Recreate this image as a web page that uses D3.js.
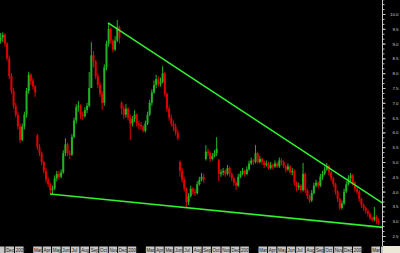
<!DOCTYPE html>
<html>
<head>
<meta charset="utf-8">
<script src="https://cdnjs.cloudflare.com/ajax/libs/d3/7.8.5/d3.min.js"></script>
<style>
body { margin: 0; background: #000; }
svg { display: block; }
</style>
</head>
<body>
<svg id="chart"></svg>
<script>
// weekly candles, Mon 15 Nov 2004 .. Mon 24 Mar 2008
const opens = [
  9.1, 9.2, 9.3, 9.0, 8.5, 7.9, 7.4, 6.9, 6.6, 6.2,
  5.75, 6.2, 6.6, 7.4, 7.95, 7.75, 7.55, 5.9, 5.5, 5.3,
  5.0, 4.7, 4.4, 4.25, 4.05, 4.1, 4.45, 4.6, 4.5, 4.65,
  5.3, 5.6, 5.3, 5.25, 5.85, 6.4, 6.85, 6.9, 6.6, 6.55,
  6.75, 6.9, 7.5, 8.6, 8.4, 7.9, 7.6, 7.3, 7.0, 8.2,
  9.0, 9.5, 9.1, 8.8, 9.1, 9.55, 7.0, 6.8, 6.6, 6.8,
  6.5, 6.3, 6.45, 6.6, 6.3, 6.25, 6.2, 6.05, 6.3, 6.6,
  7.0, 7.35, 7.6, 7.8, 7.65, 7.7, 8.0, 7.3, 6.8, 6.5,
  6.3, 6.2, 6.0, 5.0, 4.7, 4.4, 4.1, 3.65, 3.85, 4.1,
  4.0, 3.95, 4.25, 4.4, 4.5, 5.1, 5.35, 5.3, 5.1, 5.2,
  5.3, 5.05, 4.6, 4.65, 4.7, 4.6, 4.8, 4.6, 4.45, 4.3,
  4.2, 4.5, 4.6, 4.7, 4.6, 4.75, 4.95, 5.05, 5.0, 5.3,
  5.0, 5.1, 5.0, 4.9, 4.95, 4.8, 4.9, 4.85, 4.95, 4.85,
  5.05, 5.0, 4.85, 4.75, 4.85, 4.65, 4.7, 4.3, 4.15, 4.2,
  4.05, 4.6, 4.05, 3.85, 3.7, 3.95, 4.2, 4.3, 4.2, 4.5,
  4.6, 4.75, 4.85, 4.65, 4.45, 4.25, 4.0, 3.75, 3.45, 3.6,
  4.0, 4.25, 4.45, 4.55, 4.3, 4.1, 4.0, 3.75, 3.55, 3.45,
  3.35, 3.25, 3.1, 3.05, 3.15, 3.0
];
const highs = [
  9.36, 9.38, 9.35, 9.05, 8.6, 8.0, 7.5, 7.0, 6.7, 6.3,
  6.3, 6.7, 7.5, 8.05, 8.0, 7.85, 7.6, 5.95, 5.6, 5.35,
  5.05, 4.8, 4.5, 4.3, 4.2, 4.55, 4.7, 4.7, 4.75, 5.4,
  5.8, 5.65, 5.4, 5.95, 6.5, 6.95, 7.06, 6.95, 6.7, 6.85,
  7.0, 8.04, 9.05, 8.75, 8.45, 8.0, 7.7, 7.4, 8.3, 9.1,
  9.7, 9.55, 9.15, 9.25, 9.8, 9.6, 7.05, 6.9, 6.95, 6.85,
  6.6, 6.55, 6.75, 6.65, 6.4, 6.35, 6.25, 6.4, 6.7, 7.1,
  7.45, 7.75, 7.95, 7.9, 7.85, 8.24, 8.05, 7.35, 6.9, 6.6,
  6.4, 6.3, 6.1, 5.05, 4.8, 4.5, 4.15, 3.95, 4.2, 4.15,
  4.1, 4.35, 4.5, 4.63, 4.6, 5.57, 5.45, 5.35, 5.3, 5.4,
  5.84, 5.1, 4.75, 4.8, 4.75, 4.9, 4.85, 4.65, 4.5, 4.35,
  4.6, 4.7, 4.8, 4.75, 4.85, 5.05, 5.15, 5.1, 5.57, 5.35,
  5.2, 5.15, 5.05, 5.05, 5.0, 5.0, 4.95, 5.05, 5.0, 5.15,
  5.12, 5.05, 4.9, 4.95, 4.9, 4.8, 4.75, 4.35, 4.3, 4.25,
  4.97, 4.65, 4.1, 3.9, 4.05, 4.3, 4.4, 4.35, 4.6, 4.7,
  4.85, 4.97, 4.9, 4.7, 4.5, 4.3, 4.05, 3.8, 3.7, 4.1,
  4.35, 4.55, 4.63, 4.6, 4.35, 4.15, 4.05, 3.8, 3.6, 3.5,
  3.4, 3.3, 3.15, 3.48, 3.2, 3.1
];
const lows = [
  9.0, 9.05, 8.9, 8.42, 7.8, 7.3, 6.8, 6.5, 6.1, 5.64,
  5.7, 6.1, 6.5, 7.3, 7.6, 7.45, 7.2, 5.4, 5.2, 4.9,
  4.6, 4.3, 4.15, 3.95, 3.92, 4.05, 4.35, 4.4, 4.45, 4.6,
  5.2, 5.2, 5.1, 5.2, 5.8, 6.3, 6.7, 6.45, 6.42, 6.5,
  6.65, 6.85, 7.5, 8.2, 7.8, 7.5, 7.2, 6.76, 6.9, 8.1,
  8.9, 9.0, 8.7, 8.75, 9.05, 9.0, 6.6, 6.45, 6.5, 6.4,
  5.74, 6.2, 6.35, 6.2, 6.1, 6.1, 6.0, 6.0, 6.25, 6.55,
  6.9, 7.3, 7.5, 7.55, 7.55, 7.65, 7.2, 6.7, 6.4, 6.2,
  6.05, 5.9, 5.74, 4.5, 4.3, 4.0, 3.48, 3.55, 3.8, 3.9,
  3.85, 3.9, 4.2, 4.35, 4.3, 5.05, 5.2, 5.0, 5.05, 5.15,
  5.2, 4.35, 4.5, 4.55, 4.5, 4.55, 4.5, 4.35, 4.2, 4.05,
  4.15, 4.45, 4.55, 4.5, 4.55, 4.7, 4.9, 4.9, 4.95, 4.95,
  4.95, 4.9, 4.8, 4.85, 4.75, 4.75, 4.75, 4.8, 4.8, 4.8,
  4.9, 4.8, 4.65, 4.7, 4.6, 4.55, 4.2, 4.0, 4.05, 3.95,
  4.0, 3.95, 3.75, 3.61, 3.65, 3.9, 4.15, 4.1, 4.15, 4.4,
  4.55, 4.7, 4.55, 4.35, 4.15, 3.9, 3.65, 3.38, 3.4, 3.55,
  3.95, 4.2, 4.35, 4.2, 4.0, 3.9, 3.65, 3.45, 3.35, 3.25,
  3.15, 3.04, 2.98, 3.0, 2.92, 2.87
];
const closes = [
  9.2, 9.3, 9.0, 8.5, 7.9, 7.4, 6.9, 6.6, 6.2, 5.75,
  6.2, 6.6, 7.4, 7.95, 7.75, 7.55, 7.35, 5.5, 5.3, 5.0,
  4.7, 4.4, 4.25, 4.05, 4.1, 4.45, 4.6, 4.5, 4.65, 5.3,
  5.6, 5.3, 5.25, 5.85, 6.4, 6.85, 6.9, 6.6, 6.55, 6.75,
  6.9, 7.5, 8.6, 8.4, 7.9, 7.6, 7.3, 7.0, 8.2, 9.0,
  9.5, 9.1, 8.8, 9.1, 9.55, 9.2, 6.8, 6.6, 6.8, 6.5,
  6.3, 6.45, 6.6, 6.3, 6.25, 6.2, 6.05, 6.3, 6.6, 7.0,
  7.35, 7.6, 7.8, 7.65, 7.7, 8.0, 7.3, 6.8, 6.5, 6.3,
  6.2, 6.0, 5.8, 4.7, 4.4, 4.1, 3.65, 3.85, 4.1, 4.0,
  3.95, 4.25, 4.4, 4.5, 4.4, 5.35, 5.3, 5.1, 5.2, 5.3,
  5.45, 4.6, 4.65, 4.7, 4.6, 4.8, 4.6, 4.45, 4.3, 4.2,
  4.5, 4.6, 4.7, 4.6, 4.75, 4.95, 5.05, 5.0, 5.3, 5.0,
  5.1, 5.0, 4.9, 4.95, 4.8, 4.9, 4.85, 4.95, 4.85, 5.05,
  5.0, 4.85, 4.75, 4.85, 4.65, 4.7, 4.3, 4.15, 4.2, 4.05,
  4.6, 4.05, 3.85, 3.7, 3.95, 4.2, 4.3, 4.2, 4.5, 4.6,
  4.75, 4.85, 4.65, 4.45, 4.25, 4.0, 3.75, 3.45, 3.6, 4.0,
  4.25, 4.45, 4.55, 4.3, 4.1, 4.0, 3.75, 3.55, 3.45, 3.35,
  3.25, 3.1, 3.05, 3.15, 3.0, 2.95
];
const weeks = d3.timeMonday.range(new Date(2004, 10, 15), new Date(2008, 2, 25));

// trend lines drawn on the chart
const upperTrend = [{ date: new Date(2005, 9, 31), price: 9.70 }, { date: new Date(2008, 3, 9), price: 3.60 }];
const lowerTrend = [{ date: new Date(2005, 3, 26), price: 3.92 }, { date: new Date(2008, 3, 9), price: 2.79 }];

const yTicks = [2.5, 3.0, 3.5, 4.0, 4.5, 5.0, 5.5, 6.0, 6.5, 7.0, 7.5, 8.0, 8.5, 9.0, 9.5, 10.0];
const monthNames = ["", "", "Mar", "Apr", "May", "Jun", "Jul", "Aug", "Sep", "Oct", "Nov", "Dec"];

const data = weeks.map((d, i) => ({
    date: d, open: opens[i], high: highs[i], low: lows[i], close: closes[i]
}));

const W = 400, H = 253;
const plotRight = 383, plotBottom = 246;

const svg = d3.select('#chart').attr('width', W).attr('height', H);
svg.append('rect').attr('width', W).attr('height', H).attr('fill', '#000');

const x = d3.scaleTime()
    .domain([new Date(2004, 10, 15), new Date(2008, 3, 9)])
    .range([0, plotRight]);
const y = d3.scaleLinear()
    .domain([2.5, 10])
    .range([236, 14]);

svg.append('clipPath').attr('id', 'plotclip')
    .append('rect').attr('width', plotRight).attr('height', plotBottom);

const plot = svg.append('g').attr('clip-path', 'url(#plotclip)');
const colour = d => d.close >= d.open ? '#22b422' : '#e00000';
const cx = d => x(d3.timeDay.offset(d.date, 2));

// candles
plot.selectAll('line.wick')
    .data(data)
    .enter()
    .append('line')
    .attr('class', 'wick')
    .attr('x1', cx).attr('x2', cx)
    .attr('y1', d => y(d.high)).attr('y2', d => y(d.low))
    .attr('stroke', colour)
    .attr('stroke-width', 1);

plot.selectAll('rect.body')
    .data(data)
    .enter()
    .append('rect')
    .attr('class', 'body')
    .attr('x', d => cx(d) - 1)
    .attr('width', 2)
    .attr('y', d => y(Math.max(d.open, d.close)))
    .attr('height', d => Math.max(1, Math.abs(y(d.open) - y(d.close))))
    .attr('fill', colour);

// trend lines
const trend = d3.line().x(d => x(d.date)).y(d => y(d.price));
[upperTrend, lowerTrend].forEach(t => {
    plot.append('path')
        .attr('d', trend(t))
        .attr('fill', 'none')
        .attr('stroke', '#33ee33')
        .attr('stroke-width', 1.6);
});

// right axis
const axisG = svg.append('g').attr('transform', `translate(${plotRight - 0.5},0)`);
axisG.append('line')
    .attr('x1', 0).attr('x2', 0).attr('y1', 0).attr('y2', plotBottom)
    .attr('stroke', '#c8c8c8');

const minor = d3.axisRight(y)
    .tickValues(d3.range(2.0, 10.6, 0.5 / 3))
    .tickSize(2)
    .tickFormat('');
axisG.append('g').call(minor);

const major = d3.axisRight(y)
    .tickValues(yTicks)
    .tickSize(3)
    .tickFormat(d3.format('.1f'));
axisG.append('g').call(major);

axisG.selectAll('.domain').remove();
axisG.selectAll('.tick line').attr('stroke', '#c8c8c8');
axisG.selectAll('.tick text')
    .attr('x', 16)
    .attr('text-anchor', 'end')
    .attr('fill', '#d0d0d0')
    .style('font-family', '"Liberation Sans", Arial, sans-serif')
    .style('font-size', '4.4px');

// bottom date strip
const months = d3.timeMonth.range(new Date(2004, 10, 1), new Date(2008, 4, 1));
const strip = svg.append('g');
strip.append('clipPath').attr('id', 'stripclip')
    .append('rect').attr('x', 0).attr('y', plotBottom).attr('width', plotRight).attr('height', H - plotBottom);
const cells = strip.append('g').attr('clip-path', 'url(#stripclip)');
cells.append('rect')
    .attr('x', 0).attr('y', plotBottom).attr('width', plotRight).attr('height', H - plotBottom)
    .attr('fill', '#000');

const labelled = months.filter(m => m.getMonth() !== 1);
const cell = cells.selectAll('g.cell')
    .data(labelled)
    .enter()
    .append('g')
    .attr('class', 'cell');
cell.append('rect')
    .attr('x', d => x(d) + 0.5)
    .attr('y', plotBottom + 0.5)
    .attr('width', d => x(d3.timeMonth.offset(d, 1)) - x(d) - 1)
    .attr('height', H - plotBottom)
    .attr('fill', '#c8c8c8');
// text only for cells whose label fits inside the strip
cell.filter(d => x(d) >= 0 && x(d) + 8 <= plotRight)
    .append('text')
    .attr('x', d => x(d) + 1.2)
    .attr('y', 252.4)
    .attr('fill', '#202020')
    .style('font-family', '"Liberation Sans", Arial, sans-serif')
    .style('font-size', '4.5px')
    .text(d => d.getMonth() === 0 ? d.getFullYear() : monthNames[d.getMonth()]);

svg.append('rect')
    .attr('x', plotRight).attr('y', plotBottom)
    .attr('width', W - plotRight).attr('height', H - plotBottom)
    .attr('fill', '#ece9d8');
</script>
</body>
</html>
